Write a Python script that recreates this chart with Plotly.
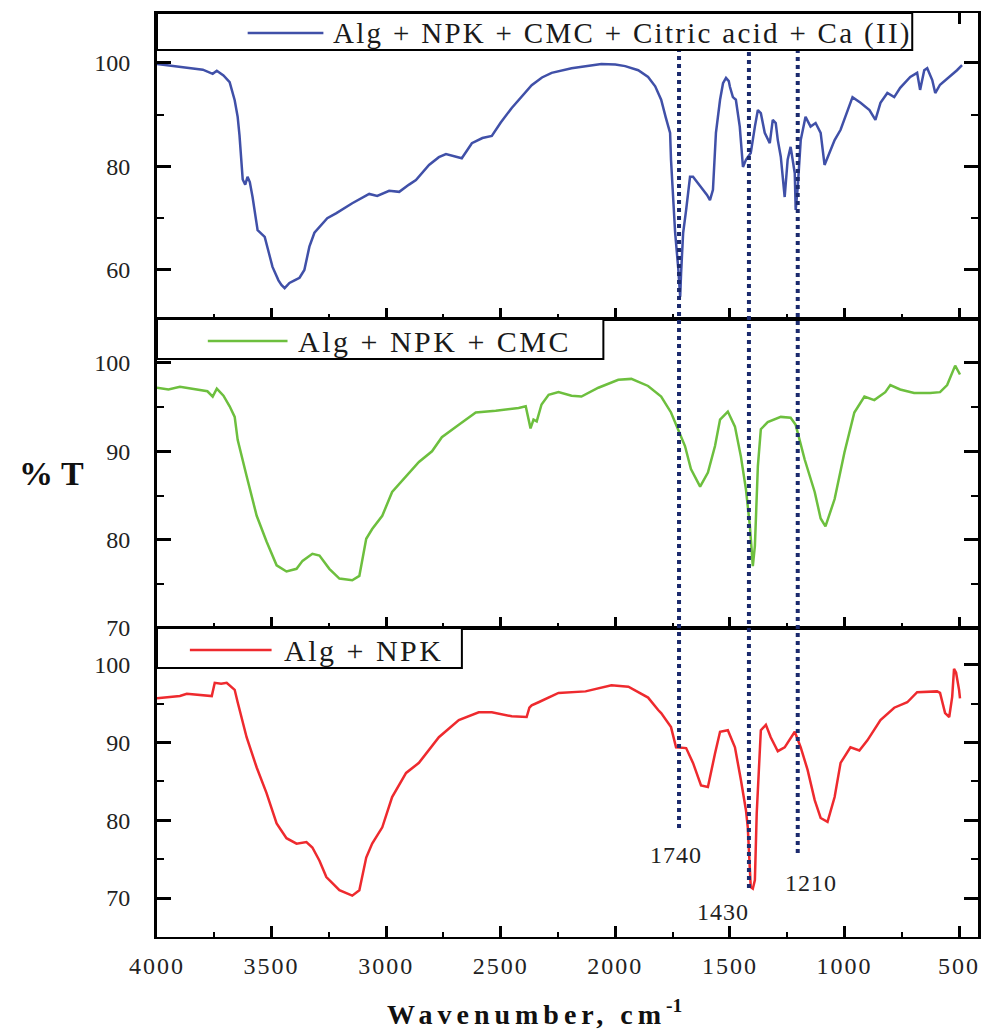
import plotly.graph_objects as go

# ---------------- data ----------------
wn_top = [4000, 3950, 3900, 3850, 3800, 3757, 3739, 3710, 3683, 3661, 3648, 3640, 3626, 3615, 3605,
          3595, 3583, 3561, 3540, 3530, 3510, 3496, 3470, 3457, 3443, 3422, 3400, 3378, 3357, 3335,
          3313, 3291, 3257, 3217, 3148, 3074, 3039, 2987, 2943, 2900, 2870, 2813, 2770, 2739, 2700,
          2670, 2626, 2580, 2539, 2500, 2452, 2400, 2365, 2320, 2278, 2191, 2100, 2061, 2000, 1957,
          1900, 1870, 1857, 1826, 1800, 1780, 1761, 1757, 1748, 1739, 1726, 1717, 1713, 1704, 1691,
          1674, 1661, 1626, 1600, 1587, 1574, 1561, 1543, 1530, 1517, 1505, 1500, 1487, 1474, 1457,
          1443, 1430, 1409, 1391, 1378, 1365, 1348, 1326, 1313, 1300, 1291, 1278, 1261, 1248, 1235,
          1217, 1213, 1204, 1191, 1170, 1148, 1126, 1104, 1087, 1065, 1043, 1017, 987, 965, 930,
          891, 865, 843, 813, 783, 757, 713, 683, 670, 652, 639, 617, 604, 583, 543, 509, 487]
t_top = [99.8, 99.5, 99.3, 98.9, 98.7, 97.9, 98.5, 97.6, 96.3, 92.8, 89.6, 86.0, 77.5, 76.5, 78.0,
         77.0, 74.1, 67.7, 66.8, 66.4, 63.0, 60.6, 58.0, 57.1, 56.5, 57.5, 58.0, 58.5, 60.0, 64.5,
         67.2, 68.3, 70.0, 71.0, 72.9, 74.7, 74.3, 75.3, 75.1, 76.5, 77.4, 80.3, 81.8, 82.4, 82.0,
         81.6, 84.5, 85.5, 85.9, 88.5, 91.3, 94.0, 95.7, 97.2, 98.1, 99.0, 99.5, 99.8, 99.7, 99.4,
         98.6, 97.7, 97.3, 95.5, 92.9, 89.5, 86.5, 81.3, 74.9, 67.2, 60.6, 54.8, 59.4, 67.2, 71.6,
         78.0, 78.0, 76.0, 74.5, 73.5, 75.5, 86.5, 92.9, 96.1, 97.1, 96.5, 95.4, 93.4, 92.9, 87.7,
         79.9, 81.3, 82.6, 87.7, 90.9, 90.3, 86.5, 84.5, 89.0, 88.4, 85.1, 81.9, 74.1, 81.3, 83.8,
         78.7, 71.6, 76.0, 85.1, 89.6, 87.7, 88.4, 86.5, 80.3, 82.6, 85.1, 87.1, 90.9, 93.4, 92.3,
         90.9, 89.0, 92.3, 94.2, 93.4, 95.2, 97.3, 98.1, 94.8, 98.6, 99.0, 96.7, 94.2, 95.8, 97.3, 98.6, 99.6]

wn_mid = [4000, 3950, 3900, 3850, 3813, 3780, 3757, 3739, 3710, 3683, 3661, 3648, 3609, 3565, 3522,
          3478, 3435, 3391, 3365, 3322, 3291, 3248, 3204, 3148, 3117, 3087, 3061, 3017, 2974, 2913,
          2857, 2800, 2757, 2683, 2609, 2522, 2422, 2391, 2378, 2370, 2357, 2343, 2322, 2291, 2248,
          2191, 2148, 2074, 1987, 1930, 1857, 1813, 1800, 1757, 1726, 1696, 1670, 1630, 1596, 1565,
          1543, 1509, 1478, 1452, 1430, 1413, 1400, 1391, 1378, 1365, 1335, 1278, 1235, 1213, 1174,
          1130, 1104, 1083, 1043, 1000, 957, 913, 870, 822, 800, 757, 696, 626, 583, 552, 517, 496]
t_mid = [97.2, 97.0, 97.3, 97.1, 97.0, 96.8, 96.2, 97.1, 96.3, 95.1, 93.9, 91.3, 87.2, 82.7, 79.8,
         77.1, 76.4, 76.7, 77.6, 78.4, 78.2, 76.7, 75.6, 75.4, 75.9, 80.1, 81.2, 82.7, 85.4, 87.2,
         88.8, 90.0, 91.6, 93.0, 94.4, 94.6, 94.9, 95.1, 93.6, 92.6, 93.6, 93.4, 95.3, 96.4, 96.7,
         96.3, 96.2, 97.2, 98.1, 98.2, 97.4, 96.4, 96.2, 94.4, 92.5, 90.6, 88.0, 86.0, 87.6, 90.6,
         93.6, 94.5, 92.8, 89.4, 85.7, 81.6, 77.0, 79.3, 88.3, 92.5, 93.3, 93.9, 93.8, 93.0, 89.1,
         85.4, 82.4, 81.5, 84.6, 89.9, 94.4, 96.2, 95.8, 96.7, 97.5, 97.0, 96.6, 96.6, 96.7, 97.5, 99.7, 98.7]

wn_bot = [4000, 3943, 3900, 3870, 3813, 3761, 3748, 3720, 3696, 3661, 3648, 3609, 3565, 3522, 3478,
          3435, 3391, 3348, 3322, 3291, 3261, 3204, 3148, 3117, 3087, 3061, 3017, 2974, 2913, 2857,
          2770, 2683, 2596, 2539, 2452, 2387, 2375, 2365, 2335, 2248, 2130, 2017, 1943, 1857, 1813,
          1800, 1757, 1735, 1691, 1661, 1626, 1596, 1565, 1543, 1509, 1478, 1452, 1430, 1422, 1409,
          1400, 1391, 1383, 1365, 1343, 1322, 1291, 1261, 1217, 1191, 1161, 1130, 1104, 1074, 1043,
          1017, 974, 935, 900, 843, 783, 726, 683, 596, 583, 561, 543, 530, 522, 513, 500, 496]
t_bot = [95.7, 95.9, 96.0, 96.3, 96.1, 96.0, 97.7, 97.6, 97.7, 96.8, 95.2, 90.7, 86.8, 83.5, 79.6,
         77.7, 77.0, 77.2, 76.5, 74.8, 72.7, 71.0, 70.3, 71.0, 75.2, 77.0, 79.1, 83.0, 86.1, 87.4,
         90.7, 92.9, 93.9, 93.9, 93.4, 93.3, 94.5, 94.8, 95.2, 96.4, 96.6, 97.4, 97.2, 95.8, 94.2,
         93.8, 92.0, 89.4, 89.3, 87.4, 84.5, 84.3, 88.6, 91.4, 91.6, 89.4, 85.2, 81.3, 79.1, 71.4,
         71.2, 72.3, 80.9, 91.6, 92.3, 90.7, 88.9, 89.4, 91.4, 89.4, 86.5, 82.6, 80.3, 79.8, 83.0,
         87.4, 89.4, 89.0, 90.3, 92.9, 94.5, 95.2, 96.5, 96.6, 96.4, 93.8, 93.3, 95.9, 99.5, 99.0, 96.8, 95.7]

series_names = ["Alg + NPK + CMC + Citric acid + Ca (II)", "Alg + NPK + CMC", "Alg + NPK"]
series_colors = ["#4050a8", "#6dbf3e", "#ee2a2e"]

band_positions = [1722, 1417, 1204]
band_labels = ["1740", "1430", "1210"]

x_ticks = [4000, 3500, 3000, 2500, 2000, 1500, 1000, 500]
y_ticks_top = [60, 80, 100]
y_ticks_low = [70, 80, 90, 100]

# ---------------- geometry helpers (pixels -> paper) ----------------
W, H = 981, 1031
L, R, T, B = 157, 0, 13, 94
def px(x):
    return (x - L) / (W - L - R)
def py(y):
    return (H - B - y) / (H - T - B)

SERIF = "Liberation Serif"
TXT = "#222222"

fig = go.Figure()
for i, (wn, tv) in enumerate([(wn_top, t_top), (wn_mid, t_mid), (wn_bot, t_bot)]):
    suffix = "" if i == 0 else str(i + 1)
    fig.add_trace(go.Scatter(x=wn, y=tv, mode="lines", name=series_names[i],
                             line=dict(color=series_colors[i], width=2.5),
                             xaxis="x" + suffix, yaxis="y" + suffix, showlegend=False))

def spaced(s, sp):
    return '<span style="letter-spacing:%spx">%s</span>' % (sp, s)

x_common = dict(range=[4000, 4000 - (W - L - R) / 0.23], showline=True, linecolor="black",
                linewidth=2, ticks="inside", ticklen=11, tickwidth=2.5, tickcolor="black",
                tickvals=x_ticks, showgrid=False, zeroline=False,
                minor=dict(ticks="inside", dtick=250, tick0=0, ticklen=5, tickwidth=2, tickcolor="black"))
y_common = dict(showline=True, linecolor="black", linewidth=3, mirror="ticks", ticks="inside",
                ticklen=14, tickwidth=2.5, tickcolor="black", showgrid=False, zeroline=False,
                ticklabelstandoff=19,
                tickfont=dict(family=SERIF, size=24, color=TXT))

d1, d2 = py(628), py(319)
fig.update_layout(
    width=W, height=H, margin=dict(l=L, r=R, t=T, b=B),
    paper_bgcolor="white", plot_bgcolor="white",
    font=dict(family=SERIF, color=TXT),
    xaxis=dict(x_common, anchor="y", mirror="ticks", showticklabels=False),
    xaxis2=dict(x_common, anchor="y2", mirror=True, showticklabels=False, matches="x"),
    xaxis3=dict(x_common, anchor="y3", mirror=True, matches="x",
                ticktext=[spaced(str(v), 2) for v in x_ticks], ticklabelstandoff=6,
                tickfont=dict(family=SERIF, size=24, color=TXT)),
    yaxis=dict(y_common, domain=[d2, 1], range=[50.53, 109.66], tickvals=y_ticks_top,
               minor=dict(ticks="inside", dtick=10, tick0=0, ticklen=7, tickwidth=2, tickcolor="black")),
    yaxis2=dict(y_common, domain=[d1, d2], range=[70, 104.98], tickvals=y_ticks_low,
                minor=dict(ticks="inside", dtick=5, tick0=0, ticklen=7, tickwidth=2, tickcolor="black")),
    yaxis3=dict(y_common, domain=[0, d1], range=[64.98, 104.76], tickvals=y_ticks_low,
                minor=dict(ticks="inside", dtick=5, tick0=0, ticklen=7, tickwidth=2, tickcolor="black")),
)

shapes = []
annotations = []

# dotted band markers
band_ends = [828, 888, 853]
for pos, yend in zip(band_positions, band_ends):
    shapes.append(dict(type="line", xref="x3", yref="paper", x0=pos, x1=pos,
                       y0=py(yend), y1=py(50), line=dict(color="#1c2b6e", width=4, dash="dot"),
                       layer="above"))
band_label_px = [(678, 855), (725, 912), (813, 883)]
for lab, (lx, ly) in zip(band_labels, band_label_px):
    annotations.append(dict(xref="paper", yref="paper", x=px(lx), y=py(ly), text=spaced(lab, 1),
                            showarrow=False, xanchor="center", yanchor="middle",
                            font=dict(family=SERIF, size=24, color=TXT)))

# legend boxes
boxes = [  # (x0, x1, y0, y1, line x0, line x1, line y, text x, font size, letter spacing)
    (157, 915, 13, 50, 248, 324, 33, 332, 29, 2.3),
    (157, 605, 319, 359, 208, 288, 341, 297, 30, 2.5),
    (157, 463, 628, 668, 190, 272, 650, 282, 30, 2.5),
]
for i, (bx0, bx1, by0, by1, lx0, lx1, ly, tx, fs, ls) in enumerate(boxes):
    shapes.append(dict(type="rect", xref="paper", yref="paper", x0=px(bx0), x1=px(bx1),
                       y0=py(by1), y1=py(by0), line=dict(color="black", width=2),
                       fillcolor="white", layer="above"))
    shapes.append(dict(type="line", xref="paper", yref="paper", x0=px(lx0), x1=px(lx1),
                       y0=py(ly), y1=py(ly), line=dict(color=series_colors[i], width=2.5),
                       layer="above"))
    annotations.append(dict(xref="paper", yref="paper", x=px(tx), y=py(ly), text=spaced(series_names[i], ls),
                            showarrow=False, xanchor="left", yanchor="middle",
                            font=dict(family=SERIF, size=fs, color="#1a1a1a")))

# axis titles
annotations.append(dict(xref="paper", yref="paper", x=px(51), y=py(473), text="<b>% T</b>",
                        showarrow=False, xanchor="center", yanchor="middle",
                        font=dict(family=SERIF, size=34, color="#111111")))
annotations.append(dict(xref="paper", yref="paper", x=px(536), y=py(1012),
                        text='<b>' + spaced("Wavenumber, cm", 5) + '<sup>-1</sup></b>',
                        showarrow=False, xanchor="center", yanchor="middle",
                        font=dict(family=SERIF, size=28, color="#111111")))

fig.update_layout(shapes=shapes, annotations=annotations)
fig.write_html("out.html", config={"displayModeBar": False},
               post_script="document.body.style.margin='0';document.body.style.overflow='hidden';")
